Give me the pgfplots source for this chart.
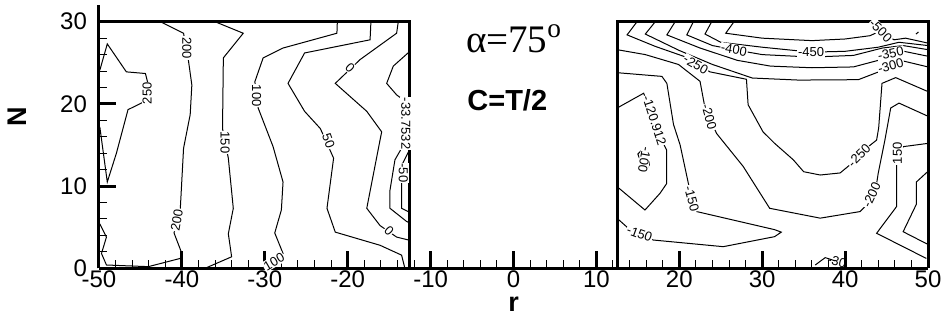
\documentclass[border=0pt]{standalone}
\usepackage{fontspec}
\setmainfont{Liberation Sans}
\newfontfamily\timesfont{Liberation Serif}
\usepackage{pgfplots}
\pgfplotsset{compat=1.18}
\tikzset{lbl/.style={font=\fontsize{6.5}{6.5}\selectfont, fill=white, inner sep=0.4pt}}
\pgfplotsset{cl/.style={black, line width=0.5pt, mark=none}}
\begin{document}
\begin{tikzpicture}
\useasboundingbox (-49.5pt,-30.85pt) rectangle (422.5pt,134.15pt);
\begin{axis}[
 at={(0,0)}, anchor=south west,
 scale only axis, width=414.5pt, height=131.5pt,
 xmin=-50, xmax=50, ymin=0, ymax=32,
 axis x line*=bottom, axis y line*=left,
 axis line style={line width=1.5pt, -},
 xtick={-50,-40,...,50}, ytick={0,10,20,30},
 minor x tick num=4, minor y tick num=4,
 tick align=inside,
 major tick length=8.5pt, minor tick length=4.25pt,
 major tick style={line width=1.5pt, black},
 minor tick style={line width=0.5pt, black},
 tick label style={font=\fontsize{12}{12}\selectfont},
 xticklabel style={yshift=2.5pt},
 yticklabel style={xshift=-2.5pt},
 /pgf/number format/assume math mode=true,
 xlabel={\bfseries r}, ylabel={\bfseries N},
 every axis x label/.style={at={(axis cs:0,0)}, yshift=-18pt, anchor=center, font=\fontsize{13.5}{13.5}\selectfont},
 every axis y label/.style={at={(axis cs:-50,18.4)}, xshift=-41pt, rotate=90, anchor=center, font=\fontsize{13.5}{13.5}\selectfont},
 clip=false,
]
% frames
\addplot[black, line width=1.5pt, mark=none] coordinates {(-50,30)(-12.5,30)(-12.5,0)};
\addplot[black, line width=1.5pt, mark=none] coordinates {(12.5,0)(12.5,30)(50,30)(50,0)};
% ---------- left box ----------
\addplot[cl] coordinates {(-49.9,24.1)(-49.0,27.3)(-46.7,23.9)(-44.4,23.7)(-44.05,22.3)(-44.5,20.3)(-46.5,19.3)(-47.9,14.0)(-49.0,10.5)(-49.9,17.2)};
\addplot[cl] coordinates {(-42.6,30)(-39.8,28.6)(-39.2,25.2)(-38.8,22.3)(-39.0,18.7)(-39.8,14.6)(-40.2,7.1)(-40.95,4.3)(-40.0,1.8)(-40.2,1.2)(-44.05,0.2)(-49.1,0.4)(-49.7,1.8)(-49.1,3.8)(-49.9,5.4)};
\addplot[cl] coordinates {(-36.0,30)(-32.6,28.6)(-35.0,25.6)(-35.1,17.0)(-34.4,13.4)(-33.8,7.3)(-34.4,4.2)(-34.0,1.4)(-37.2,0)};
\addplot[cl] coordinates {(-21.25,30)(-21.3,28.6)(-27.8,26.8)(-30.2,25.6)(-31.2,22.7)(-30.8,19.5)(-29.0,14.8)(-27.8,10.5)(-28.0,7.1)(-28.8,4.3)(-27.8,1.8)(-30.2,0)};
\addplot[cl] coordinates {(-17.2,30)(-17.3,27.8)(-25.2,26.2)(-27.2,22.5)(-25.2,19.1)(-23.3,17.0)(-21.7,13.4)(-22.5,7.3)(-21.5,4.4)(-16.1,2.8)(-13.5,1.6)(-13.1,0)};
\addplot[cl] coordinates {(-13.9,30)(-14.1,28.6)(-18.5,25.4)(-21.5,22.5)(-17.7,19.1)(-15.9,16.6)(-16.1,15.6)(-17.7,7.3)(-16.1,5.2)(-14.1,3.8)(-12.5,3.4)};
\addplot[cl] coordinates {(-12.5,26.4)(-14.5,24.6)(-15.3,22.5)(-14.1,21.1)(-13.3,20.5)(-13.0,18)(-13.0,15.5)(-14.3,13.2)(-14.9,9.5)(-14.9,7.3)(-12.9,5.7)(-12.5,5.5)};
\addplot[cl] coordinates {(-12.5,14.5)(-13.5,12.5)(-13.5,10.3)(-13.5,7.3)(-12.5,6.8)};
\node[lbl, rotate=90] at (axis cs:-44.2,21.3) {250};
\node[lbl, rotate=-90] at (axis cs:-39.4,26.8) {200};
\node[lbl, rotate=80] at (axis cs:-40.6,5.9) {200};
\node[lbl, rotate=-90] at (axis cs:-34.8,15.3) {150};
\node[lbl, rotate=-90] at (axis cs:-31.0,21.0) {100};
\node[lbl, rotate=30] at (axis cs:-28.9,0.8) {100};
\node[lbl, rotate=-70] at (axis cs:-22.3,15.5) {50};
\node[lbl, rotate=-45] at (axis cs:-19.7,24.4) {0};
\node[lbl, rotate=-45] at (axis cs:-15.0,4.6) {0};
\node[lbl, rotate=-90] at (axis cs:-13.0,17.6) {-33.7532};
\node[lbl, rotate=-90] at (axis cs:-13.3,11.6) {-50};
% ---------- right box ----------
% -250
\addplot[cl] coordinates {(14.9,30)(13.7,28.4)(17.1,27.0)(20.5,25.8)(23.7,23.9)(28.1,23.0)(28.3,19.9)(30.1,16.6)(31.5,15.2)(33.75,13.2)(35.0,11.75)(37.0,11.35)(39.4,11.6)(40.6,12.6)(42.8,14.8)(43.8,15.6)(44.05,17.1)(44.45,22.5)(46.1,23.2)(50,21.5)};
% -300
\addplot[cl] coordinates {(17.1,30)(15.9,28.5)(20.0,26.5)(24.0,24.8)(28.8,23.15)(34.4,22.9)(41.6,22.95)(44.05,23.9)(47.1,25.2)(50,24.5)};
% -350
\addplot[cl] coordinates {(19.5,30)(18.5,28.4)(22.5,26.8)(27,25.3)(31,24.6)(36,24.4)(41,24.5)(44,25.3)(45.5,26.1)(47.1,26.4)(50,25.8)};
% -400
\addplot[cl] coordinates {(21.7,30)(20.9,28.4)(24,27.1)(26.6,26.6)(30,26.0)(36,25.7)(41,25.9)(44.5,26.8)(47,27.1)(50,26.6)};
% -450
\addplot[cl] coordinates {(23.9,30)(23.1,28.5)(25,27.5)(30,26.9)(35.9,26.3)(40,26.4)(44,26.9)(46.5,27.5)(50,27.1)};
% -500
\addplot[cl] coordinates {(26.6,30)(25.6,28.6)(30,28.0)(36,27.7)(40,27.9)(43.0,28.3)(44.3,28.9)(45.9,27.8)(47.3,28.0)(50,27.4)};
\addplot[cl] coordinates {(48.55,28.5)(48.85,28.75)};
% -200
\addplot[cl] coordinates {(12.5,26.6)(15.9,26.0)(19.9,24.8)(22.5,22.75)(23.1,19.5)(24.5,16.4)(27.7,12.4)(30.9,7.3)(37.0,6.1)(41.8,6.9)(42.6,7.7)(43.8,10.3)(44.0,11.6)(44.8,15.6)(45.5,19.5)(46.5,20.1)(50,18.5)};
% -150
\addplot[cl] coordinates {(12.5,23.8)(17.9,23.35)(18.5,22.5)(19.3,17.5)(20.1,15.0)(21.1,10.3)(22.1,6.9)(31.5,4.7)(32.3,4.4)(31.5,3.85)(25.3,2.63)(16.86,3.44)(13.85,4.87)(12.5,6.08)};
% -120.912
\addplot[cl] coordinates {(12.5,19.5)(15.7,21.3)(18.07,15.2)(18.47,14.4)(18.47,10.3)(17.67,9.12)(15.86,7.09)(12.5,9.93)};
% -100
\addplot[cl] coordinates {(15.7,14.6)(15.0,13.9)(15.3,13.1)(16.0,12.0)(16.4,12.6)(16.4,14.0)(15.7,14.6)};
% right side
\addplot[cl] coordinates {(50,15.2)(47.0,14.8)(46.2,13.2)(46.2,7.5)(43.8,4.26)(49.8,1.2)};
\addplot[cl] coordinates {(50,11.8)(48.6,10.5)(48.6,7.8)(47.0,4.45)(50,2.9)};
\addplot[cl] coordinates {(36.4,0.4)(37.6,1.3)(38.8,0.9)};
\node[lbl, rotate=-10] at (axis cs:26.6,26.6) {-400};
\node[lbl] at (axis cs:35.9,26.3) {-450};
\node[lbl, rotate=-45] at (axis cs:44.3,28.9) {-500};
\node[lbl, rotate=12] at (axis cs:45.5,26.15) {-350};
\node[lbl, rotate=15] at (axis cs:45.5,24.6) {-300};
\node[lbl, rotate=-30] at (axis cs:22.0,24.8) {-250};
\node[lbl, rotate=-72] at (axis cs:17.0,18.0) {-120.912};
\node[lbl, rotate=-100] at (axis cs:15.8,13.2) {-100};
\node[lbl, rotate=-75] at (axis cs:23.6,18.4) {-200};
\node[lbl, rotate=-75] at (axis cs:21.5,8.5) {-150};
\node[lbl, rotate=-20] at (axis cs:15.2,4.2) {-150};
\node[lbl, rotate=45] at (axis cs:41.7,13.7) {-250};
\node[lbl, rotate=65] at (axis cs:43.2,8.9) {-200};
\node[lbl, rotate=90] at (axis cs:46.3,14.0) {150};
\node[lbl, rotate=-15, fill=none] at (axis cs:39.0,0.8) {-30};
\end{axis}
% title texts
\node[anchor=base west, font=\timesfont\fontsize{19.5}{19.5}\selectfont, inner sep=0] at (183.3pt,107.7pt) {α=75\textsuperscript{o}};
\node[anchor=base west, font=\bfseries\fontsize{14.5}{14.5}\selectfont, inner sep=0] at (184pt,78.8pt) {C=T/2};
\end{tikzpicture}
\end{document}
